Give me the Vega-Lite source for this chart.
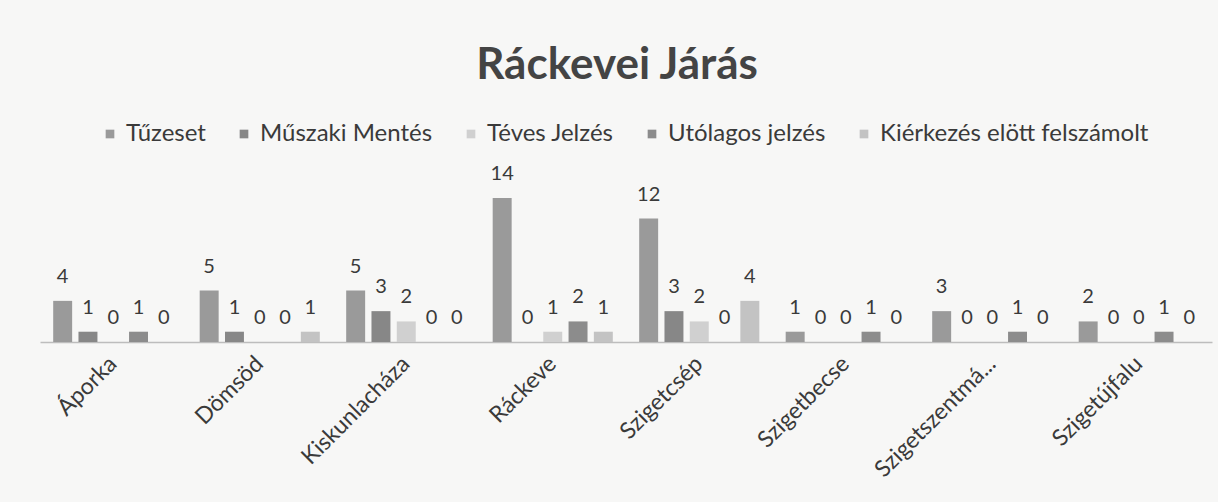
{
  "$schema": "https://vega.github.io/schema/vega-lite/v6.json",
  "width": 1172,
  "height": 144,
  "autosize": {"type": "none"},
  "padding": {"left": 40, "top": 198, "right": 6, "bottom": 160},
  "background": "#f7f7f6",
  "config": {"view": {"stroke": null}, "font": "Lato"},
  "title": {
    "text": "Ráckevei Járás",
    "fontSize": 44,
    "fontWeight": "bold",
    "color": "#444444",
    "anchor": "middle",
    "frame": "group",
    "offset": 34,
    "dx": -9,
    "font": "Lato"
  },
  "data": {
    "values": [
      {"telepules": "Áporka", "tipus": "Tűzeset", "db": 4},
      {"telepules": "Áporka", "tipus": "Műszaki Mentés", "db": 1},
      {"telepules": "Áporka", "tipus": "Téves Jelzés", "db": 0},
      {"telepules": "Áporka", "tipus": "Utólagos jelzés", "db": 1},
      {"telepules": "Áporka", "tipus": "Kiérkezés elött felszámolt", "db": 0},
      {"telepules": "Dömsöd", "tipus": "Tűzeset", "db": 5},
      {"telepules": "Dömsöd", "tipus": "Műszaki Mentés", "db": 1},
      {"telepules": "Dömsöd", "tipus": "Téves Jelzés", "db": 0},
      {"telepules": "Dömsöd", "tipus": "Utólagos jelzés", "db": 0},
      {"telepules": "Dömsöd", "tipus": "Kiérkezés elött felszámolt", "db": 1},
      {"telepules": "Kiskunlacháza", "tipus": "Tűzeset", "db": 5},
      {"telepules": "Kiskunlacháza", "tipus": "Műszaki Mentés", "db": 3},
      {"telepules": "Kiskunlacháza", "tipus": "Téves Jelzés", "db": 2},
      {"telepules": "Kiskunlacháza", "tipus": "Utólagos jelzés", "db": 0},
      {"telepules": "Kiskunlacháza", "tipus": "Kiérkezés elött felszámolt", "db": 0},
      {"telepules": "Ráckeve", "tipus": "Tűzeset", "db": 14},
      {"telepules": "Ráckeve", "tipus": "Műszaki Mentés", "db": 0},
      {"telepules": "Ráckeve", "tipus": "Téves Jelzés", "db": 1},
      {"telepules": "Ráckeve", "tipus": "Utólagos jelzés", "db": 2},
      {"telepules": "Ráckeve", "tipus": "Kiérkezés elött felszámolt", "db": 1},
      {"telepules": "Szigetcsép", "tipus": "Tűzeset", "db": 12},
      {"telepules": "Szigetcsép", "tipus": "Műszaki Mentés", "db": 3},
      {"telepules": "Szigetcsép", "tipus": "Téves Jelzés", "db": 2},
      {"telepules": "Szigetcsép", "tipus": "Utólagos jelzés", "db": 0},
      {"telepules": "Szigetcsép", "tipus": "Kiérkezés elött felszámolt", "db": 4},
      {"telepules": "Szigetbecse", "tipus": "Tűzeset", "db": 1},
      {"telepules": "Szigetbecse", "tipus": "Műszaki Mentés", "db": 0},
      {"telepules": "Szigetbecse", "tipus": "Téves Jelzés", "db": 0},
      {"telepules": "Szigetbecse", "tipus": "Utólagos jelzés", "db": 1},
      {"telepules": "Szigetbecse", "tipus": "Kiérkezés elött felszámolt", "db": 0},
      {"telepules": "Szigetszentmá...", "tipus": "Tűzeset", "db": 3},
      {"telepules": "Szigetszentmá...", "tipus": "Műszaki Mentés", "db": 0},
      {"telepules": "Szigetszentmá...", "tipus": "Téves Jelzés", "db": 0},
      {"telepules": "Szigetszentmá...", "tipus": "Utólagos jelzés", "db": 1},
      {"telepules": "Szigetszentmá...", "tipus": "Kiérkezés elött felszámolt", "db": 0},
      {"telepules": "Szigetújfalu", "tipus": "Tűzeset", "db": 2},
      {"telepules": "Szigetújfalu", "tipus": "Műszaki Mentés", "db": 0},
      {"telepules": "Szigetújfalu", "tipus": "Téves Jelzés", "db": 0},
      {"telepules": "Szigetújfalu", "tipus": "Utólagos jelzés", "db": 1},
      {"telepules": "Szigetújfalu", "tipus": "Kiérkezés elött felszámolt", "db": 0}
    ]
  },
  "encoding": {
    "x": {
      "field": "telepules",
      "type": "nominal",
      "sort": null,
      "scale": {"paddingInner": 0.18, "paddingOuter": 0.09},
      "axis": {
        "title": null,
        "labelAngle": -45,
        "labelAlign": "right",
        "labelBaseline": "middle",
        "labelFontSize": 23,
        "labelFont": "Lato",
        "labelColor": "#3a3a3a",
        "labelPadding": 18,
        "labelLimit": 300,
        "ticks": false,
        "domainColor": "#bdbdbd",
        "domainWidth": 1.5
      }
    },
    "xOffset": {
      "field": "tipus",
      "type": "nominal",
      "sort": ["Tűzeset", "Műszaki Mentés", "Téves Jelzés", "Utólagos jelzés", "Kiérkezés elött felszámolt"],
      "scale": {"paddingInner": 0.25}
    },
    "y": {
      "field": "db",
      "type": "quantitative",
      "scale": {"domain": [0, 14], "nice": false},
      "axis": null
    }
  },
  "layer": [
    {
      "mark": {"type": "bar"},
      "encoding": {
        "color": {
          "field": "tipus",
          "type": "nominal",
          "sort": ["Tűzeset", "Műszaki Mentés", "Téves Jelzés", "Utólagos jelzés", "Kiérkezés elött felszámolt"],
          "scale": {
            "domain": ["Tűzeset", "Műszaki Mentés", "Téves Jelzés", "Utólagos jelzés", "Kiérkezés elött felszámolt"],
            "range": ["#9a9a9a", "#878787", "#d0d0d0", "#8c8c8c", "#c3c3c3"]
          },
          "legend": {
            "title": null,
            "orient": "none",
            "direction": "horizontal",
            "columns": 5,
            "legendX": 58,
            "legendY": -76,
            "symbolType": "square",
            "symbolSize": 75,
            "symbolStrokeWidth": 0,
            "labelFontSize": 24,
            "labelFont": "Lato",
            "labelColor": "#3a3a3a",
            "labelOffset": 4,
            "columnPadding": 26,
            "labelLimit": 400
          }
        }
      }
    },
    {
      "mark": {"type": "text", "baseline": "alphabetic", "dy": -18, "fontSize": 20, "font": "Lato", "color": "#3a3a3a"},
      "encoding": {
        "text": {"field": "db", "type": "quantitative"}
      }
    }
  ]
}
